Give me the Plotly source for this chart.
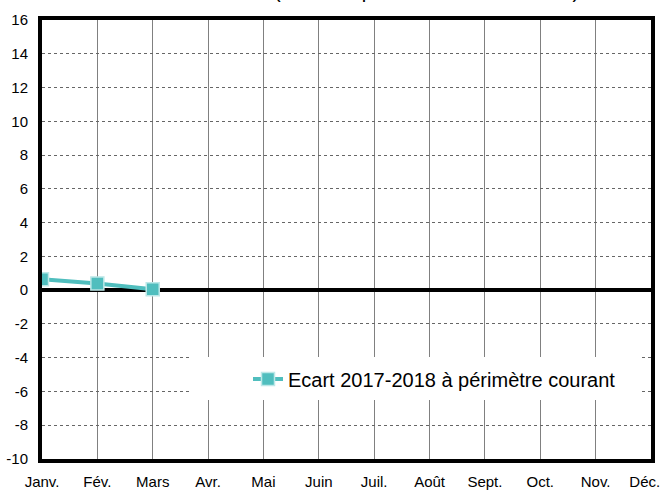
import plotly.graph_objects as go

months = ["Janv.", "Fév.", "Mars", "Avr.", "Mai", "Juin", "Juil.", "Août", "Sept.", "Oct.", "Nov.", "Déc."]
ecart_values = [0.65, 0.4, 0.05]
series_name = "Ecart 2017-2018 à périmètre courant"
y_ticks = list(range(-10, 17, 2))
y_tick_labels = [str(v) for v in y_ticks]
title_text = "(cumul depuis le début de l'année)"

FONT = "Liberation Sans, Arial, sans-serif"
TEAL = "#50BEBE"

# last label padded so it stays inside the page, as in the reference
tick_text = months[:-1] + [months[-1] + "\u00a0\u00a0\u00a0"]

L, R, T, B = 42, 11, 20, 32
PW, PH = 662 - L - R, 491 - T - B

fig = go.Figure()
fig.add_trace(go.Scatter(
    x=months[:len(ecart_values)], y=ecart_values, name=series_name,
    mode="lines+markers",
    line=dict(color=TEAL, width=4),
    marker=dict(symbol="square", size=13, color=TEAL, line=dict(color="#BDE8E8", width=1.5)),
))

fig.update_layout(
    width=662, height=491,
    margin=dict(l=L, r=R, t=T, b=B, autoexpand=False),
    paper_bgcolor="white", plot_bgcolor="white",
    font=dict(family=FONT, size=15, color="black"),
    showlegend=True,
    legend=dict(x=(248 - L) / PW, y=(491 - B - 379) / PH, xanchor="left", yanchor="middle",
                bgcolor="rgba(0,0,0,0)", font=dict(size=20, family=FONT),
                itemwidth=30),
    shapes=[dict(type="rect", xref="paper", yref="paper",
                 x0=(191 - L) / PW, x1=(640 - L) / PW,
                 y0=(491 - B - 400) / PH, y1=(491 - B - 357) / PH,
                 fillcolor="white", line=dict(width=0), layer="above")],
    annotations=[dict(text=title_text, xref="paper", yref="paper",
                      x=(272 - L) / PW, y=1 + 16 / PH, xanchor="left", yanchor="bottom",
                      showarrow=False, font=dict(size=20, family=FONT))],
)

fig.update_xaxes(
    type="category", categoryorder="array", categoryarray=months,
    range=[0, 11], tickmode="array", tickvals=months, ticktext=tick_text,
    showgrid=True, gridcolor="#808080", gridwidth=1,
    showline=True, linecolor="black", linewidth=4, mirror=True,
    ticks="", ticklen=0, tickfont=dict(size=15), ticklabelstandoff=6, automargin=False,
)
fig.update_yaxes(
    range=[-10, 16], tickmode="array", tickvals=y_ticks, ticktext=y_tick_labels,
    showgrid=True, gridcolor="#666666", gridwidth=1, griddash="dot",
    zeroline=True, zerolinecolor="black", zerolinewidth=4,
    showline=True, linecolor="black", linewidth=4, mirror=True,
    ticks="", tickfont=dict(size=15), ticklabelstandoff=7, automargin=False,
)

fig.write_html("out.html", config={"displayModeBar": False},
               post_script="document.body.style.margin='0';")
